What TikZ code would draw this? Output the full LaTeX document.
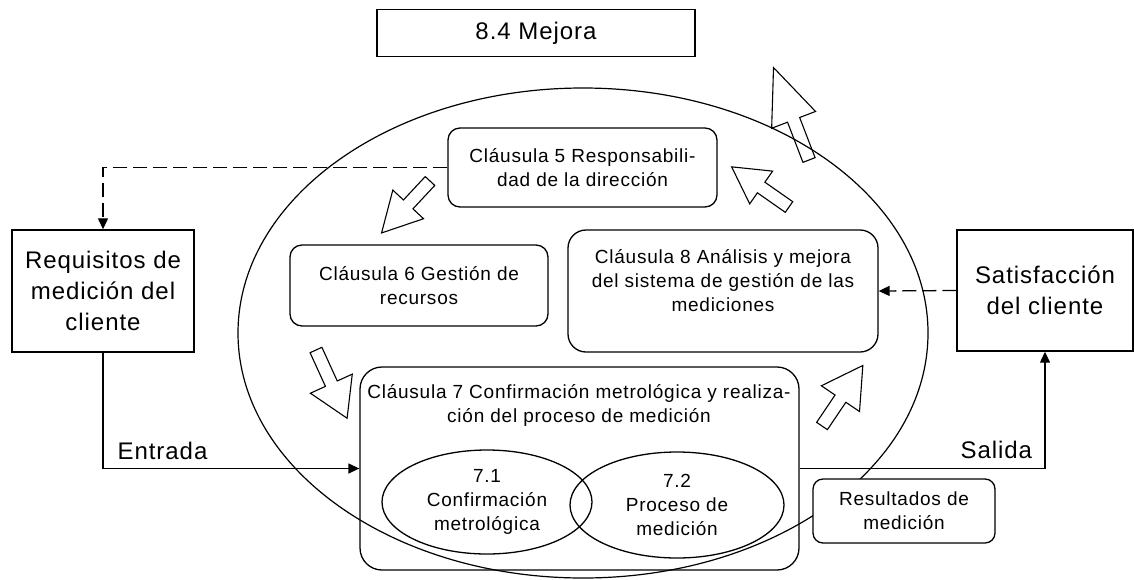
\documentclass[tikz,border=0pt]{standalone}
\usepackage{fontspec}
\setmainfont{Liberation Sans}[LetterSpace=4]
\usetikzlibrary{shapes.geometric,arrows.meta}
\newcommand\blockarrow[6]{%
  \begin{scope}[shift={(#1,#2)},rotate=#3]
    \draw[barrow] (0,-6.5) -- ({#4-#5},-6.5) -- ({#4-#5},-#6) -- (#4,0)
      -- ({#4-#5},#6) -- ({#4-#5},6.5) -- (0,6.5) -- cycle;
  \end{scope}}
\tikzset{
  big/.style={font=\fontsize{24}{31}\selectfont},
  small/.style={font=\fontsize{19}{24}\selectfont},
  sqbox/.style={draw, line width=1.4pt, inner sep=0pt, align=center, big},
  rbox/.style={draw, line width=1.3pt, inner sep=0pt, align=center, small, rounded corners=#1},
  rbox/.default=12pt,
  oval/.style={draw, ellipse, line width=1.3pt, inner sep=0pt, align=center, small},
  barrow/.style={draw, line width=1.1pt, line join=miter},
  solidarrow/.style={line width=1.3pt, -{Triangle[length=11pt,width=10pt]}},
  dasharrow/.style={line width=1.3pt, dash pattern=on 14pt off 6pt, -{Triangle[length=11pt,width=10pt]}},
}
\begin{document}
\begin{tikzpicture}[x=1pt,y=-1pt,line width=1.2pt]
\useasboundingbox (0,0) rectangle (1134,579);
% big ellipse
\draw[line width=1.2pt] (583,333) ellipse [x radius=345, y radius=245];
% boxes
\node[sqbox, minimum width=318pt, minimum height=47pt] (mej) at (536,33) {8.4 Mejora};
\node[sqbox, minimum width=182pt, minimum height=122pt] (req) at (103,291) {Requisitos de\\medición del\\cliente};
\node[sqbox, minimum width=176pt, minimum height=121pt] (sat) at (1045,290.5) {Satisfacción\\del cliente};
\node[rbox, minimum width=269pt, minimum height=79pt] (c5) at (582.5,167.5) {Cláusula 5 Responsabili-\\dad de la dirección};
\node[rbox, minimum width=258pt, minimum height=81pt] (c6) at (419,285.5) {Cláusula 6 Gestión de\\recursos};
\node[rbox=18pt, minimum width=310pt, minimum height=122pt] (c8) at (723,291) {};
\node[small, align=center, inner sep=0pt] (c8t) at (723,281) {Cláusula 8 Análisis y mejora\\del sistema de gestión de las\\mediciones};
\node[rbox=22pt, minimum width=439pt, minimum height=203pt] (c7) at (579.5,468.5) {};
\node[small, align=center, inner sep=0pt] (c7t) at (579,405) {Cláusula 7 Confirmación metrológica y realiza-\\ción del proceso de medición};
\node[oval, minimum width=210pt, minimum height=104pt] (e71) at (487,502) {7.1\\Confirmación\\metrológica};
\node[oval, minimum width=214pt, minimum height=106pt] (e72) at (677,505) {7.2\\Proceso de\\medición};
\node[rbox=10pt, fill=white, minimum width=182pt, minimum height=64pt] (res) at (904,511) {Resultados de\\medición};
% connectors
\draw[dasharrow] (c5.west) -| (req.north);
\draw[solidarrow] (req.south) |- (c7.west);
\draw[solidarrow] (c7.east) -| (sat.south);
\draw[dasharrow] (sat.west) -- (c8.east);
\node[big, anchor=base west, inner sep=0pt] (entrada) at (117,459) {Entrada};
\node[big, anchor=base west, inner sep=0pt] (salida) at (960,458) {Salida};
% block arrows
\blockarrow{809}{160}{111}{99}{56}{23.5}
\blockarrow{789}{207}{145}{70}{36}{20}
\blockarrow{430}{181}{227}{71}{39}{21}
\blockarrow{316}{350}{-65.5}{75}{38}{23}
\blockarrow{822}{426}{56}{73}{40}{23}
\end{tikzpicture}
\end{document}
